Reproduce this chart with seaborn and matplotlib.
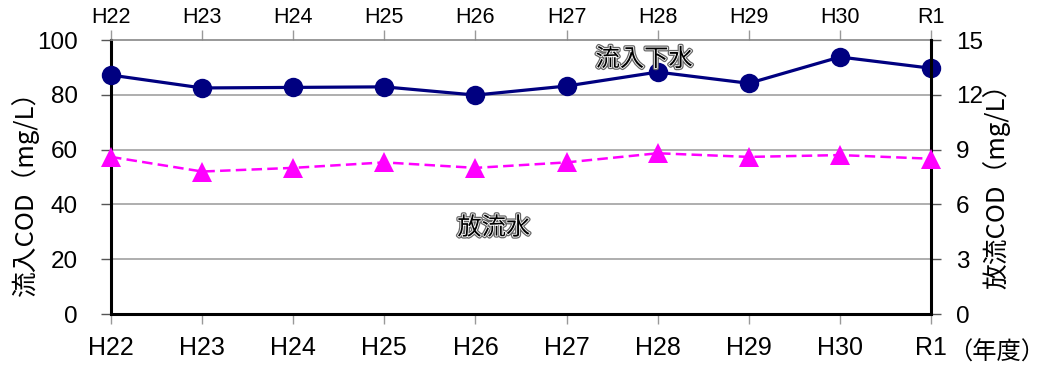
import matplotlib
matplotlib.use("Agg")
import matplotlib.pyplot as plt
import matplotlib.patheffects as pe
import seaborn as sns
import pandas as pd

# Fiscal years (Heisei 22 .. Reiwa 1)
years = ["H22", "H23", "H24", "H25", "H26", "H27", "H28", "H29", "H30", "R1"]
# Influent COD (mg/L), left axis
inflow_cod = [87.2, 82.5, 82.7, 82.9, 79.9, 83.2, 88.3, 84.2, 93.8, 89.7]
# Effluent COD (mg/L), right axis
outflow_cod = [8.6, 7.8, 8.0, 8.3, 8.0, 8.3, 8.8, 8.6, 8.7, 8.5]

left_ticks = [0, 20, 40, 60, 80, 100]
right_ticks = [0, 3, 6, 9, 12, 15]

sns.set_theme(style="white")
plt.rcParams["font.family"] = ["Liberation Sans", "Noto Sans CJK JP", "DejaVu Sans"]
plt.rcParams["text.color"] = "black"
plt.rcParams["xtick.labelcolor"] = "black"
plt.rcParams["ytick.labelcolor"] = "black"

df = pd.DataFrame({"pos": range(len(years)), "year": years,
                   "inflow": inflow_cod, "outflow": outflow_cod})

fig = plt.figure(figsize=(10.5, 3.67), dpi=100)
ax = fig.add_axes([0.1057, 0.1444, 0.7810, 0.7466])
ax2 = ax.twinx()

sns.lineplot(data=df, x="pos", y="inflow", ax=ax, color="#000080", lw=2.3,
             marker="o", markersize=14, markeredgewidth=0, zorder=5,
             clip_on=False)
sns.lineplot(data=df, x="pos", y="outflow", ax=ax2, color="#FF00FF", lw=1.8,
             marker="^", markersize=14, markeredgewidth=0, dashes=(4.2, 2.1),
             zorder=5, clip_on=False)

ax.set_xlim(0, len(years) - 1)
ax.set_ylim(0, 100)
ax2.set_ylim(0, 15)
ax.set_yticks(left_ticks)
ax2.set_yticks(right_ticks)
ax.set_xticks(range(len(years)))
ax.set_xticklabels(years, fontsize=18, color="black")
ax.set_yticklabels([str(v) for v in left_ticks], fontsize=17.5, color="black")
ax2.set_yticklabels([str(v) for v in right_ticks], fontsize=17.5, color="black")
ax.set_xlabel("")
ax.set_ylabel("")
ax2.set_ylabel("")

for v in [20, 40, 60, 80]:
    ax.axhline(v, color="#999999", lw=1.1, zorder=0)

# Top axis repeats the year labels
top = ax.secondary_xaxis("top")
top.set_xticks(range(len(years)))
top.set_xticklabels(years, fontsize=15.5, color="black")
top.tick_params(axis="x", length=7, width=1, color="#999999", pad=2)
top.spines["top"].set_visible(False)

for s in ["left", "bottom"]:
    ax.spines[s].set_color("black")
    ax.spines[s].set_linewidth(2.2)
ax.spines["top"].set_color("#888888")
ax.spines["top"].set_linewidth(1.2)
ax.spines["right"].set_visible(False)
ax2.spines["right"].set_color("black")
ax2.spines["right"].set_linewidth(2.2)
for s in ["left", "bottom", "top"]:
    ax2.spines[s].set_visible(False)

ax.tick_params(axis="x", bottom=True, length=7, width=1, color="#999999", pad=9)
ax.tick_params(axis="y", left=True, length=7, width=1, color="#555555", pad=17)
ax2.tick_params(axis="y", right=True, length=7, width=1, color="#555555", pad=11)

jp = ["Noto Sans CJK JP", "DejaVu Sans"]
fig.text(0.024, 0.49, "流入COD（mg/L）", rotation=90, ha="center", va="center",
         fontsize=18.5, family=jp)
fig.text(0.949, 0.509, "放流COD（mg/L）", rotation=90, ha="center", va="center",
         fontsize=18.5, family=jp)
fig.text(0.995, 0.04, "（年度）", ha="right", va="center", fontsize=17.5, family=jp)

outline = [pe.Stroke(linewidth=3, foreground="#666666"),
           pe.Stroke(linewidth=1.2, foreground="white"), pe.Normal()]
ax.text(5.85, 93.0, "流入下水", ha="center", va="center", fontsize=17.5,
        family=jp, color="black", path_effects=outline, zorder=6)
ax.text(4.2, 31.5, "放流水", ha="center", va="center", fontsize=17.5,
        family=jp, color="black", path_effects=outline, zorder=6)

fig.savefig("out.png", dpi=100)
